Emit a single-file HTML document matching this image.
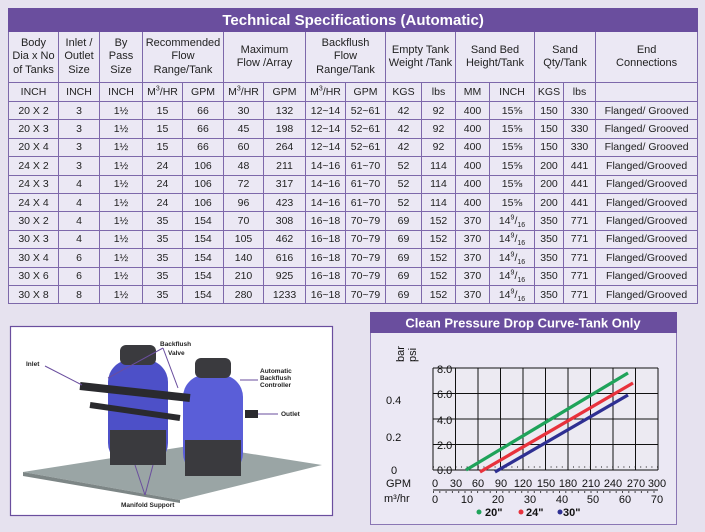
<!DOCTYPE html>
<html><head><meta charset="utf-8"><style>
body{margin:0;width:705px;height:532px;background:#e6e2ef;font-family:"Liberation Sans",sans-serif;position:relative;overflow:hidden}
table{position:absolute;left:8px;top:8px;border-collapse:collapse;table-layout:fixed;width:689px;font-size:10.5px;color:#222;font-family:"Liberation Sans Narrow","Liberation Sans",sans-serif}
td{border:1px solid #7d68aa;text-align:center;padding:0;background:#ebe8f4;overflow:hidden;white-space:nowrap}
td.h{line-height:13.5px;font-size:11px}
tr.t td{background:#6a4e9e;color:#fff;font-weight:bold;font-size:15px;height:22px;border-color:#6a4e9e;font-family:"Liberation Sans",sans-serif}
tr.hd td{height:50px}
tr.u td{height:18px}
tr.d td{height:17.4px}
sup,sub{font-size:7px;line-height:0}
</style></head><body>
<table>
<colgroup><col style="width:50px"><col style="width:41px"><col style="width:43px"><col style="width:40px"><col style="width:41px"><col style="width:40px"><col style="width:42px"><col style="width:40px"><col style="width:40px"><col style="width:36px"><col style="width:34px"><col style="width:34px"><col style="width:45px"><col style="width:29px"><col style="width:32px"><col style="width:102px"></colgroup>
<tr class="t"><td colspan="16">Technical Specifications (Automatic)</td></tr>
<tr class="hd"><td class="h">Body<br>Dia x No<br>of Tanks</td><td class="h">Inlet /<br>Outlet<br>Size</td><td class="h">By<br>Pass<br>Size</td><td class="h" colspan="2">Recommended<br>Flow<br>Range/Tank</td><td class="h" colspan="2">Maximum<br>Flow /Array</td><td class="h" colspan="2">Backflush<br>Flow<br>Range/Tank</td><td class="h" colspan="2">Empty Tank<br>Weight /Tank</td><td class="h" colspan="2">Sand Bed<br>Height/Tank</td><td class="h" colspan="2">Sand<br>Qty/Tank</td><td class="h">End<br>Connections</td></tr>
<tr class="u"><td>INCH</td><td>INCH</td><td>INCH</td><td>M<sup>3</sup>/HR</td><td>GPM</td><td>M<sup>3</sup>/HR</td><td>GPM</td><td>M<sup>3</sup>/HR</td><td>GPM</td><td>KGS</td><td>lbs</td><td>MM</td><td>INCH</td><td>KGS</td><td>lbs</td><td></td></tr>
<tr class="d"><td>20 X 2</td><td>3</td><td>1½</td><td>15</td><td>66</td><td>30</td><td>132</td><td>12~14</td><td>52~61</td><td>42</td><td>92</td><td>400</td><td>15⅝</td><td>150</td><td>330</td><td>Flanged/ Grooved</td></tr>
<tr class="d"><td>20 X 3</td><td>3</td><td>1½</td><td>15</td><td>66</td><td>45</td><td>198</td><td>12~14</td><td>52~61</td><td>42</td><td>92</td><td>400</td><td>15⅝</td><td>150</td><td>330</td><td>Flanged/ Grooved</td></tr>
<tr class="d"><td>20 X 4</td><td>3</td><td>1½</td><td>15</td><td>66</td><td>60</td><td>264</td><td>12~14</td><td>52~61</td><td>42</td><td>92</td><td>400</td><td>15⅝</td><td>150</td><td>330</td><td>Flanged/ Grooved</td></tr>
<tr class="d"><td>24 X 2</td><td>3</td><td>1½</td><td>24</td><td>106</td><td>48</td><td>211</td><td>14~16</td><td>61~70</td><td>52</td><td>114</td><td>400</td><td>15⅝</td><td>200</td><td>441</td><td>Flanged/Grooved</td></tr>
<tr class="d"><td>24 X 3</td><td>4</td><td>1½</td><td>24</td><td>106</td><td>72</td><td>317</td><td>14~16</td><td>61~70</td><td>52</td><td>114</td><td>400</td><td>15⅝</td><td>200</td><td>441</td><td>Flanged/Grooved</td></tr>
<tr class="d"><td>24 X 4</td><td>4</td><td>1½</td><td>24</td><td>106</td><td>96</td><td>423</td><td>14~16</td><td>61~70</td><td>52</td><td>114</td><td>400</td><td>15⅝</td><td>200</td><td>441</td><td>Flanged/Grooved</td></tr>
<tr class="d"><td>30 X 2</td><td>4</td><td>1½</td><td>35</td><td>154</td><td>70</td><td>308</td><td>16~18</td><td>70~79</td><td>69</td><td>152</td><td>370</td><td>14<sup>9</sup>/<sub>16</sub></td><td>350</td><td>771</td><td>Flanged/Grooved</td></tr>
<tr class="d"><td>30 X 3</td><td>4</td><td>1½</td><td>35</td><td>154</td><td>105</td><td>462</td><td>16~18</td><td>70~79</td><td>69</td><td>152</td><td>370</td><td>14<sup>9</sup>/<sub>16</sub></td><td>350</td><td>771</td><td>Flanged/Grooved</td></tr>
<tr class="d"><td>30 X 4</td><td>6</td><td>1½</td><td>35</td><td>154</td><td>140</td><td>616</td><td>16~18</td><td>70~79</td><td>69</td><td>152</td><td>370</td><td>14<sup>9</sup>/<sub>16</sub></td><td>350</td><td>771</td><td>Flanged/Grooved</td></tr>
<tr class="d"><td>30 X 6</td><td>6</td><td>1½</td><td>35</td><td>154</td><td>210</td><td>925</td><td>16~18</td><td>70~79</td><td>69</td><td>152</td><td>370</td><td>14<sup>9</sup>/<sub>16</sub></td><td>350</td><td>771</td><td>Flanged/Grooved</td></tr>
<tr class="d"><td>30 X 8</td><td>8</td><td>1½</td><td>35</td><td>154</td><td>280</td><td>1233</td><td>16~18</td><td>70~79</td><td>69</td><td>152</td><td>370</td><td>14<sup>9</sup>/<sub>16</sub></td><td>350</td><td>771</td><td>Flanged/Grooved</td></tr>
</table>

<svg style="position:absolute;left:0;top:0" width="705" height="532" font-family="Liberation Sans, sans-serif">
<rect x="10.5" y="326.5" width="322" height="189" fill="#fff" stroke="#6a4e9e" stroke-width="1.2"/>
<polygon points="23,472 195,445 322,465 180,500" fill="#9aa5a5"/>
<polygon points="23,472 180,500 180,503 23,476" fill="#7d8686"/>
<rect x="108" y="360" width="60" height="105" rx="22" fill="#4d50c8"/>
<rect x="110" y="430" width="56" height="35" fill="#3a3a3e"/>
<rect x="120" y="345" width="36" height="20" rx="6" fill="#3a3a3e"/>
<rect x="183" y="375" width="60" height="100" rx="22" fill="#5a5ed8"/>
<rect x="185" y="440" width="56" height="36" fill="#3a3a3e"/>
<rect x="195" y="358" width="36" height="20" rx="6" fill="#3a3a3e"/>
<line x1="80" y1="386" x2="190" y2="398" stroke="#2a2a2e" stroke-width="8"/>
<line x1="90" y1="405" x2="180" y2="418" stroke="#2a2a2e" stroke-width="6"/>
<line x1="245" y1="414" x2="258" y2="414" stroke="#2a2a2e" stroke-width="8"/>
<g stroke="#6a4e9e" stroke-width="1" fill="none">
<line x1="45" y1="366" x2="82" y2="385"/><line x1="163" y1="348" x2="108" y2="378"/><line x1="163" y1="348" x2="178" y2="388"/>
<line x1="258" y1="414" x2="278" y2="414"/><line x1="258" y1="380" x2="240" y2="380"/>
<line x1="145" y1="495" x2="135" y2="465"/><line x1="145" y1="495" x2="153" y2="465"/></g>
<g font-size="6.5" font-weight="bold" fill="#222">
<text x="26" y="366">Inlet</text><text x="160" y="346">Backflush</text><text x="168" y="355">Valve</text>
<text x="260" y="373">Automatic</text><text x="260" y="380">Backflush</text><text x="260" y="387">Controller</text>
<text x="281" y="416">Outlet</text><text x="121" y="507">Manifold Support</text></g>

<rect x="370.5" y="312.5" width="306" height="212" fill="#ebe8f4" stroke="#8a76b4" stroke-width="1"/>
<rect x="370" y="312" width="307" height="21" fill="#6a4e9e"/>
<text x="523" y="327.5" fill="#fff" font-size="13" font-weight="bold" text-anchor="middle">Clean Pressure Drop Curve-Tank Only</text>
<rect x="433" y="368" width="225" height="102" fill="#eceaf2"/>
<g stroke="#111" stroke-width="1">
<line x1="433" y1="368" x2="433" y2="470"/><line x1="455.5" y1="368" x2="455.5" y2="470"/><line x1="478" y1="368" x2="478" y2="470"/><line x1="500.5" y1="368" x2="500.5" y2="470"/><line x1="523" y1="368" x2="523" y2="470"/><line x1="545.5" y1="368" x2="545.5" y2="470"/><line x1="568" y1="368" x2="568" y2="470"/><line x1="590.5" y1="368" x2="590.5" y2="470"/><line x1="613" y1="368" x2="613" y2="470"/><line x1="635.5" y1="368" x2="635.5" y2="470"/><line x1="658" y1="368" x2="658" y2="470"/>
<line x1="433" y1="368" x2="658" y2="368"/><line x1="433" y1="393.5" x2="658" y2="393.5"/><line x1="433" y1="419" x2="658" y2="419"/><line x1="433" y1="444.5" x2="658" y2="444.5"/><line x1="433" y1="470" x2="658" y2="470"/>
<line x1="433" y1="490" x2="658" y2="490"/>
</g>
<line x1="433" y1="467" x2="658" y2="467" stroke="#111" stroke-width="1" stroke-dasharray="1,4.6"/>
<line x1="433" y1="492" x2="658" y2="492" stroke="#111" stroke-width="1.5" stroke-dasharray="1,5.3"/>
<line x1="466" y1="470" x2="628" y2="373" stroke="#1fa35a" stroke-width="3.3"/>
<line x1="480" y1="472" x2="633" y2="383" stroke="#e8323c" stroke-width="3.3"/>
<line x1="495" y1="472" x2="628" y2="395" stroke="#2e2f92" stroke-width="3.3"/>
<g font-size="11" fill="#111">
<text x="437" y="373">8.0</text><text x="437" y="398">6.0</text><text x="437" y="424">4.0</text><text x="437" y="449">2.0</text><text x="437" y="474">0.0</text>
<text x="386" y="404">0.4</text><text x="386" y="441">0.2</text><text x="391" y="474">0</text>
<text transform="translate(404,362) rotate(-90)">bar</text><text transform="translate(416,362) rotate(-90)">psi</text>
<text x="386" y="487">GPM</text><text x="384" y="502">m³/hr</text>
<g text-anchor="middle">
<text x="435" y="487">0</text><text x="456" y="487">30</text><text x="478" y="487">60</text><text x="501" y="487">90</text><text x="523" y="487">120</text><text x="546" y="487">150</text><text x="568" y="487">180</text><text x="591" y="487">210</text><text x="613" y="487">240</text><text x="636" y="487">270</text><text x="657" y="487">300</text>
<text x="435" y="503">0</text><text x="467" y="503">10</text><text x="498" y="503">20</text><text x="530" y="503">30</text><text x="562" y="503">40</text><text x="593" y="503">50</text><text x="625" y="503">60</text><text x="657" y="503">70</text></g>
<circle cx="479" cy="512" r="2.5" fill="#1fa35a"/><text x="485" y="516" font-weight="bold">20"</text>
<circle cx="521" cy="512" r="2.5" fill="#e8323c"/><text x="526" y="516" font-weight="bold">24"</text>
<circle cx="560" cy="512" r="2.5" fill="#2e2f92"/><text x="563" y="516" font-weight="bold">30"</text>
</g>
</svg>
</body></html>
